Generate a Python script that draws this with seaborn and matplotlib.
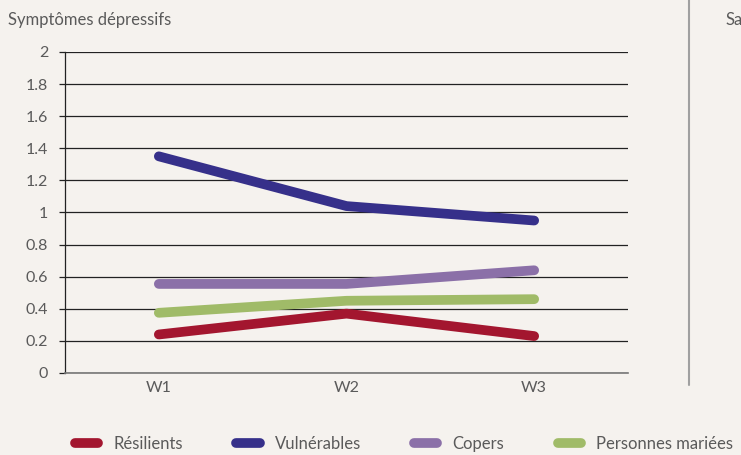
import matplotlib
matplotlib.use('Agg')
from matplotlib import pyplot as plt
from matplotlib.ticker import FixedLocator
import seaborn as sns
import pandas as pd

waves = ['W1', 'W2', 'W3']
groups = ['Résilients', 'Vulnérables', 'Copers', 'Personnes mariées']
resilients = [0.24, 0.37, 0.23]
vulnerables = [1.35, 1.04, 0.95]
copers = [0.555, 0.555, 0.64]
maries = [0.375, 0.45, 0.46]
yticks = [0, 0.2, 0.4, 0.6, 0.8, 1, 1.2, 1.4, 1.6, 1.8, 2]

colors = {'Résilients': '#a3162f', 'Vulnérables': '#36308a',
          'Copers': '#8b70a8', 'Personnes mariées': '#a0bb68'}
bg = '#f5f2ee'
txt = '#5a5a5a'

rows = []
for g, vals in zip(groups, [resilients, vulnerables, copers, maries]):
    for w, v in zip(waves, vals):
        rows.append({'wave': w, 'score': v, 'groupe': g})
df = pd.DataFrame(rows)

sns.set_style('white')
plt.rcParams['font.family'] = ['Lato', 'DejaVu Sans']

fig = plt.figure(figsize=(7.41, 4.55), dpi=100, facecolor=bg)
ax = fig.add_axes([65 / 741, 1 - 373 / 455, (628 - 65) / 741, (373 - 52) / 455])
ax.set_facecolor(bg)

sns.lineplot(data=df, x='wave', y='score', hue='groupe', hue_order=groups,
             palette=colors, linewidth=7, sort=False, ax=ax,
             solid_capstyle='round', solid_joinstyle='round', legend=False)

ax.set_xlim(-0.5, 2.5)
ax.set_ylim(0, 2)
ax.set_yticks(yticks)
ax.set_yticklabels([('%g' % t) for t in yticks])
ax.yaxis.grid(True, color='#222222', linewidth=0.9)
ax.set_axisbelow(True)
ax.set_xticks([0, 1, 2])
ax.set_xticklabels(waves)
ax.xaxis.set_minor_locator(FixedLocator([-0.5, 0.5, 1.5, 2.5]))
ax.tick_params(axis='x', which='major', length=0, pad=6, labelsize=11.5, labelcolor=txt)
ax.tick_params(axis='x', which='minor', length=8, width=0.9, color='#222222', direction='out')
ax.tick_params(axis='y', length=4, width=0.9, color='#222222', pad=8, labelsize=11.5,
               labelcolor=txt, left=True)
for s in ['top', 'right']:
    ax.spines[s].set_visible(False)
ax.spines['left'].set_color('#222222')
ax.spines['left'].set_linewidth(0.9)
ax.spines['bottom'].set_color('#777777')
ax.spines['bottom'].set_linewidth(1.2)
ax.set_xlabel('')
ax.set_ylabel('')

fig.text(8 / 741, 1 - 20 / 455, 'Symptômes dépressifs', fontsize=12, color=txt, va='center')
# titre du panneau suivant, coupé au bord comme dans l'original
fig.text(726 / 741, 1 - 20 / 455, 'Satisfaction', fontsize=12, color=txt, va='center')
fig.add_artist(plt.Line2D([689 / 741, 689 / 741], [1 - 385 / 455, 1], color='#a0a0a0',
                          linewidth=1.5, transform=fig.transFigure))

handles = [plt.Line2D([], [], color=colors[g], linewidth=7, solid_capstyle='round') for g in groups]
fig.legend(handles, groups, loc='center left', bbox_to_anchor=(75 / 741, 1 - 444 / 455),
           ncol=4, frameon=False, handlelength=1.4, columnspacing=3.2, handletextpad=0.9,
           fontsize=12, labelcolor=txt, borderaxespad=0, borderpad=0)

plt.savefig('out.png', dpi=100, facecolor=bg)
